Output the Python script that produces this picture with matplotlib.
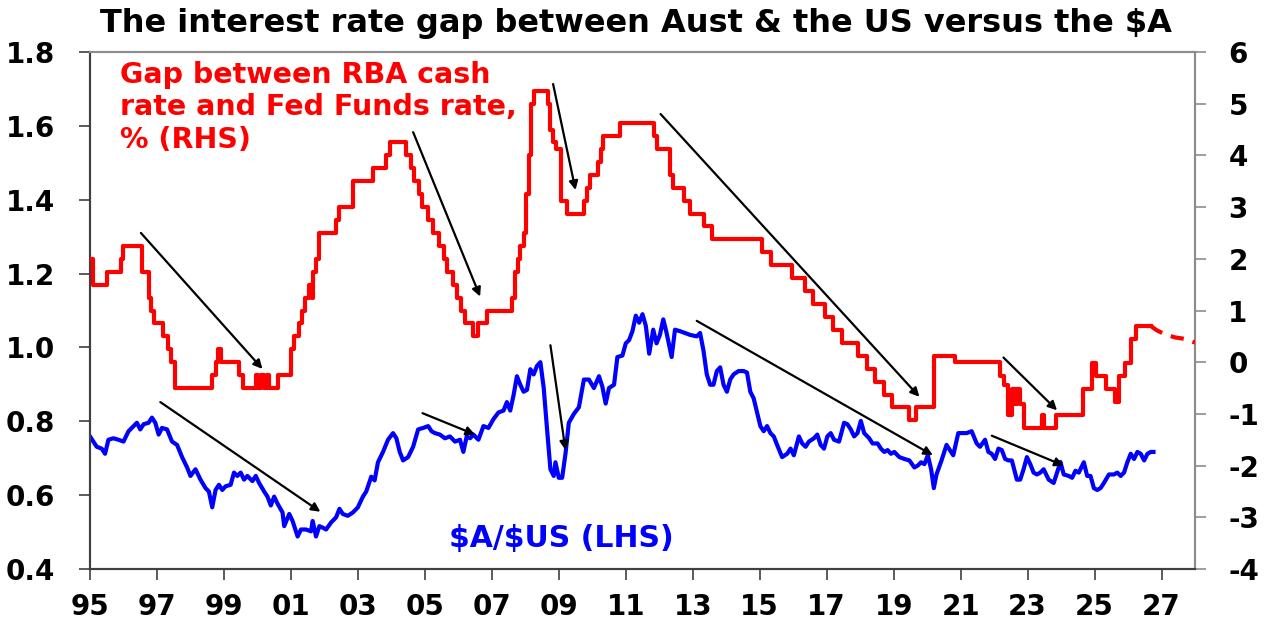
import numpy as np
import matplotlib.pyplot as plt

plt.rcParams['font.family'] = ['DejaVu Sans']
plt.rcParams['font.weight'] = 'bold'

# Gap between RBA cash rate and Fed Funds rate (RHS), step changes
red_t = [1995.00, 1995.08, 1995.50, 1995.92, 1996.00, 1996.55, 1996.75, 1996.83, 1996.92, 1997.17,
         1997.33, 1997.42, 1997.55, 1998.65, 1998.75, 1998.83, 1998.92, 1999.45, 1999.58, 1999.95,
         2000.03, 2000.12, 2000.20, 2000.28, 2000.36, 2000.60, 2001.00, 2001.10, 2001.25, 2001.33,
         2001.42, 2001.55, 2001.62, 2001.67, 2001.75, 2001.83, 2002.35, 2002.45, 2002.85, 2003.45,
         2003.85, 2003.95, 2004.45, 2004.60, 2004.67, 2004.83, 2004.92, 2005.08, 2005.25, 2005.42,
         2005.58, 2005.67, 2005.83, 2005.95, 2006.08, 2006.20, 2006.45, 2006.58, 2006.85, 2007.60,
         2007.70, 2007.78, 2007.85, 2007.95, 2008.03, 2008.10, 2008.18, 2008.25, 2008.67, 2008.75,
         2008.83, 2008.92, 2009.08, 2009.25, 2009.75, 2009.83, 2009.92, 2010.17, 2010.25, 2010.33,
         2010.83, 2011.83, 2011.92, 2012.33, 2012.42, 2012.75, 2012.92, 2013.33, 2013.58, 2015.08,
         2015.33, 2015.95, 2016.35, 2016.60, 2016.95, 2017.20, 2017.45, 2017.95, 2018.20, 2018.45,
         2018.72, 2018.95, 2019.45, 2019.67, 2020.20, 2020.83, 2022.17, 2022.30, 2022.42, 2022.52,
         2022.62, 2022.68, 2022.78, 2022.88, 2023.42, 2023.50, 2023.85, 2024.67, 2024.92, 2025.05,
         2025.35, 2025.60, 2025.72, 2025.90, 2026.08, 2026.25, 2026.68]
red_v = [2.0, 1.5, 1.75, 2.0, 2.25, 1.75, 1.25, 1.0, 0.75, 0.5,
         0.25, 0.0, -0.5, -0.25, 0.0, 0.25, 0.0, -0.25, -0.5, -0.25,
         -0.5, -0.25, -0.5, -0.25, -0.5, -0.25, 0.25, 0.5, 0.75, 1.0,
         1.25, 1.5, 1.25, 1.75, 2.0, 2.5, 2.75, 3.0, 3.5, 3.75,
         4.0, 4.25, 4.0, 3.75, 3.5, 3.25, 3.0, 2.75, 2.5, 2.25,
         2.0, 1.75, 1.5, 1.25, 1.0, 0.75, 0.5, 0.75, 1.0, 1.25,
         1.75, 2.0, 2.25, 2.5, 3.25, 4.0, 5.0, 5.25, 5.0, 4.5,
         4.25, 4.125, 3.125, 2.875, 3.125, 3.375, 3.625, 3.875, 4.125, 4.375,
         4.625, 4.375, 4.125, 3.625, 3.375, 3.125, 2.875, 2.625, 2.375, 2.125,
         1.875, 1.625, 1.375, 1.125, 0.875, 0.625, 0.375, 0.125, -0.125, -0.375,
         -0.625, -0.875, -1.125, -0.875, 0.125, 0.0, -0.275, -0.45, -1.025, -0.525,
         -0.8, -0.525, -0.8, -1.275, -1.025, -1.275, -1.025, -0.525, -0.025, -0.275,
         -0.525, -0.775, -0.275, -0.025, 0.45, 0.7, 0.7]

# projected gap (dashed)
dash_t = [2026.68, 2026.85, 2027.10, 2027.40, 2027.70, 2028.00]
dash_v = [0.70, 0.62, 0.54, 0.48, 0.45, 0.38]

# $A/$US (LHS)
blue_t = [1995.00, 1995.10, 1995.20, 1995.35, 1995.45, 1995.55, 1995.70, 1995.85, 1996.00, 1996.15,
          1996.30, 1996.40, 1996.50, 1996.60, 1996.75, 1996.85, 1996.95, 1997.05, 1997.15, 1997.30,
          1997.45, 1997.60, 1997.75, 1997.90, 1998.00, 1998.15, 1998.30, 1998.45, 1998.55, 1998.65,
          1998.75, 1998.85, 1998.95, 1999.05, 1999.20, 1999.30, 1999.40, 1999.50, 1999.60, 1999.70,
          1999.85, 1999.95, 2000.05, 2000.20, 2000.30, 2000.40, 2000.50, 2000.60, 2000.75, 2000.80,
          2000.95, 2001.05, 2001.20, 2001.30, 2001.45, 2001.60, 2001.65, 2001.75, 2001.85, 2001.95,
          2002.05, 2002.20, 2002.35, 2002.45, 2002.55, 2002.70, 2002.85, 2003.00, 2003.15, 2003.25,
          2003.40, 2003.50, 2003.60, 2003.75, 2003.90, 2004.05, 2004.15, 2004.25, 2004.35, 2004.50,
          2004.65, 2004.80, 2004.95, 2005.10, 2005.20, 2005.30, 2005.45, 2005.60, 2005.75, 2005.90,
          2006.05, 2006.15, 2006.25, 2006.35, 2006.45, 2006.60, 2006.75, 2006.90, 2007.05, 2007.20,
          2007.35, 2007.45, 2007.55, 2007.65, 2007.75, 2007.85, 2007.95, 2008.05, 2008.15, 2008.25,
          2008.35, 2008.45, 2008.55, 2008.65, 2008.75, 2008.85, 2008.90, 2009.00, 2009.10, 2009.20,
          2009.30, 2009.45, 2009.60, 2009.75, 2009.90, 2010.05, 2010.20, 2010.30, 2010.40, 2010.50,
          2010.65, 2010.75, 2010.90, 2011.00, 2011.10, 2011.20, 2011.30, 2011.40, 2011.50, 2011.60,
          2011.70, 2011.82, 2011.92, 2012.02, 2012.12, 2012.22, 2012.37, 2012.47, 2012.62, 2012.77,
          2012.92, 2013.12, 2013.22, 2013.32, 2013.42, 2013.52, 2013.62, 2013.72, 2013.82, 2013.92,
          2014.02, 2014.12, 2014.22, 2014.37, 2014.52, 2014.62, 2014.72, 2014.82, 2014.92, 2015.02,
          2015.12, 2015.22, 2015.32, 2015.42, 2015.52, 2015.67, 2015.82, 2015.92, 2016.02, 2016.17,
          2016.27, 2016.37, 2016.47, 2016.62, 2016.72, 2016.82, 2016.92, 2017.02, 2017.12, 2017.22,
          2017.37, 2017.52, 2017.62, 2017.72, 2017.82, 2017.92, 2018.02, 2018.12, 2018.27, 2018.37,
          2018.52, 2018.62, 2018.72, 2018.82, 2018.92, 2019.02, 2019.17, 2019.32, 2019.47, 2019.62,
          2019.72, 2019.82, 2019.92, 2020.02, 2020.12, 2020.20, 2020.28, 2020.43, 2020.58, 2020.68,
          2020.78, 2020.93, 2021.03, 2021.18, 2021.33, 2021.48, 2021.58, 2021.73, 2021.83, 2021.93,
          2022.03, 2022.13, 2022.23, 2022.33, 2022.43, 2022.53, 2022.68, 2022.78, 2022.88, 2022.98,
          2023.08, 2023.18, 2023.28, 2023.38, 2023.48, 2023.63, 2023.78, 2023.93, 2023.98, 2024.08,
          2024.23, 2024.33, 2024.43, 2024.53, 2024.68, 2024.78, 2024.88, 2024.98, 2025.08, 2025.18,
          2025.28, 2025.43, 2025.58, 2025.68, 2025.78, 2025.88, 2025.98, 2026.08, 2026.18, 2026.28,
          2026.38, 2026.48, 2026.58, 2026.68, 2026.76]
blue_v = [0.759, 0.745, 0.731, 0.726, 0.712, 0.750, 0.754, 0.750, 0.745, 0.773,
          0.787, 0.796, 0.778, 0.792, 0.796, 0.810, 0.796, 0.764, 0.782, 0.778,
          0.745, 0.736, 0.703, 0.675, 0.652, 0.670, 0.642, 0.619, 0.610, 0.567,
          0.614, 0.628, 0.614, 0.624, 0.628, 0.661, 0.652, 0.661, 0.642, 0.652,
          0.638, 0.652, 0.633, 0.610, 0.596, 0.572, 0.596, 0.577, 0.553, 0.516,
          0.549, 0.530, 0.488, 0.507, 0.507, 0.502, 0.530, 0.488, 0.516, 0.512,
          0.507, 0.526, 0.540, 0.563, 0.549, 0.544, 0.553, 0.567, 0.596, 0.610,
          0.650, 0.640, 0.689, 0.717, 0.750, 0.768, 0.754, 0.717, 0.694, 0.703,
          0.731, 0.778, 0.782, 0.787, 0.773, 0.768, 0.764, 0.754, 0.759, 0.745,
          0.750, 0.717, 0.759, 0.754, 0.764, 0.750, 0.787, 0.782, 0.806, 0.824,
          0.829, 0.852, 0.829, 0.871, 0.922, 0.899, 0.880, 0.885, 0.941, 0.927,
          0.950, 0.960, 0.890, 0.778, 0.670, 0.652, 0.689, 0.647, 0.647, 0.712,
          0.796, 0.820, 0.838, 0.913, 0.913, 0.890, 0.922, 0.894, 0.848, 0.890,
          0.899, 0.974, 0.978, 1.011, 1.020, 1.044, 1.086, 1.067, 1.090, 1.058,
          0.983, 1.048, 1.011, 1.034, 1.076, 1.039, 0.974, 1.048, 1.044, 1.039,
          1.034, 1.030, 1.039, 0.992, 0.927, 0.899, 0.899, 0.936, 0.946, 0.899,
          0.880, 0.913, 0.927, 0.936, 0.936, 0.932, 0.880, 0.862, 0.824, 0.787,
          0.773, 0.787, 0.768, 0.759, 0.736, 0.703, 0.712, 0.726, 0.708, 0.759,
          0.740, 0.731, 0.745, 0.754, 0.764, 0.736, 0.726, 0.759, 0.768, 0.750,
          0.745, 0.796, 0.792, 0.778, 0.759, 0.768, 0.801, 0.768, 0.754, 0.740,
          0.740, 0.726, 0.717, 0.722, 0.712, 0.717, 0.703, 0.698, 0.694, 0.675,
          0.680, 0.689, 0.684, 0.708, 0.670, 0.619, 0.656, 0.694, 0.736, 0.722,
          0.708, 0.768, 0.768, 0.768, 0.773, 0.740, 0.731, 0.750, 0.717, 0.712,
          0.698, 0.726, 0.722, 0.698, 0.694, 0.694, 0.642, 0.642, 0.670, 0.703,
          0.684, 0.661, 0.656, 0.661, 0.670, 0.642, 0.633, 0.675, 0.690, 0.656,
          0.652, 0.647, 0.666, 0.661, 0.689, 0.652, 0.652, 0.619, 0.614, 0.619,
          0.633, 0.656, 0.656, 0.661, 0.652, 0.661, 0.689, 0.712, 0.698, 0.717,
          0.712, 0.694, 0.712, 0.717, 0.717]

# trend arrows: (start, end) in data units
red_arrows = [((1996.52, 2.50), (2000.15, -0.13)),
              ((2004.65, 4.45), (2006.65, 1.27)),
              ((2008.83, 5.38), (2009.50, 3.33)),
              ((2012.04, 4.80), (2019.77, -0.67)),
              ((2022.28, 0.09), (2023.88, -0.93))]
blue_arrows = [((1997.10, 0.852), (2001.88, 0.555)),
               ((2004.93, 0.822), (2006.50, 0.764)),
               ((2008.75, 1.006), (2009.20, 0.722)),
               ((2013.12, 1.072), (2020.17, 0.708)),
               ((2021.93, 0.761), (2024.08, 0.680))]

x_ticks = list(range(1995, 2028, 2))
x_labels = ['95', '97', '99', '01', '03', '05', '07', '09', '11', '13',
            '15', '17', '19', '21', '23', '25', '27']
left_ticks = [0.4, 0.6, 0.8, 1.0, 1.2, 1.4, 1.6, 1.8]
right_ticks = [-4, -3, -2, -1, 0, 1, 2, 3, 4, 5, 6]

W, H = 1280, 632
fig = plt.figure(figsize=(W / 100, H / 100), dpi=100)
ax = fig.add_axes([90 / W, 1 - 569 / H, (1195 - 90) / W, (569 - 52) / H])
ax2 = ax.twinx()

ax.plot(blue_t, blue_v, color='#0000FF', lw=3.0, solid_joinstyle='round', zorder=3)
ax2.plot(red_t, red_v, color='#FF0000', lw=3.0, drawstyle='steps-post', zorder=3)
ax2.plot(dash_t, dash_v, color='#FF0000', lw=3.0, dashes=(3.2, 2.2), zorder=3)

arrow_style = dict(arrowstyle='-|>', color='black', lw=1.6, mutation_scale=13,
                   shrinkA=0, shrinkB=0)
for start, end in blue_arrows:
    ax.annotate('', xy=end, xytext=start, arrowprops=arrow_style, zorder=4)
for start, end in red_arrows:
    ax2.annotate('', xy=end, xytext=start, arrowprops=arrow_style, zorder=4)

ax.set_xlim(1995, 2028)
ax.set_ylim(0.4, 1.8)
ax2.set_ylim(-4, 6)

ax.set_xticks(x_ticks)
ax.set_xticklabels(x_labels)
ax.set_yticks(left_ticks)
ax.set_yticklabels(['%.1f' % v for v in left_ticks])
ax2.set_yticks(right_ticks)
ax2.set_yticklabels([str(v) for v in right_ticks])

dark = '#404040'
light = '#8c8c8c'
for a in (ax, ax2):
    a.spines['left'].set_color(dark)
    a.spines['bottom'].set_color(dark)
    a.spines['top'].set_color(light)
    a.spines['right'].set_color(light)
    for s in a.spines.values():
        s.set_linewidth(1.5)

ax.tick_params(axis='x', direction='out', length=8, width=1.2, color=dark,
               labelsize=20, pad=9)
ax.tick_params(axis='y', direction='out', length=8, width=1.2, color=dark,
               labelsize=20, pad=17)
ax2.tick_params(axis='y', direction='out', length=8, width=1.2, color=light,
                labelsize=20, pad=16)
for lab in ax.get_xticklabels() + ax.get_yticklabels() + ax2.get_yticklabels():
    lab.set_fontweight('bold')

fig.text(636 / W, 1 - 32 / H, 'The interest rate gap between Aust & the US versus the \\$A',
         ha='center', va='baseline', fontsize=23, fontweight='bold')
fig.text(120 / W, 1 - 61 / H, 'Gap between RBA cash\nrate and Fed Funds rate,\n% (RHS)',
         ha='left', va='top', fontsize=20.5, fontweight='bold', color='#FF0000',
         linespacing=1.2)
fig.text(449 / W, 1 - 547 / H, '\\$A/\\$US (LHS)', ha='left', va='baseline',
         fontsize=21.5, fontweight='bold', color='#0000FF')

fig.savefig('out.png', dpi=100)
